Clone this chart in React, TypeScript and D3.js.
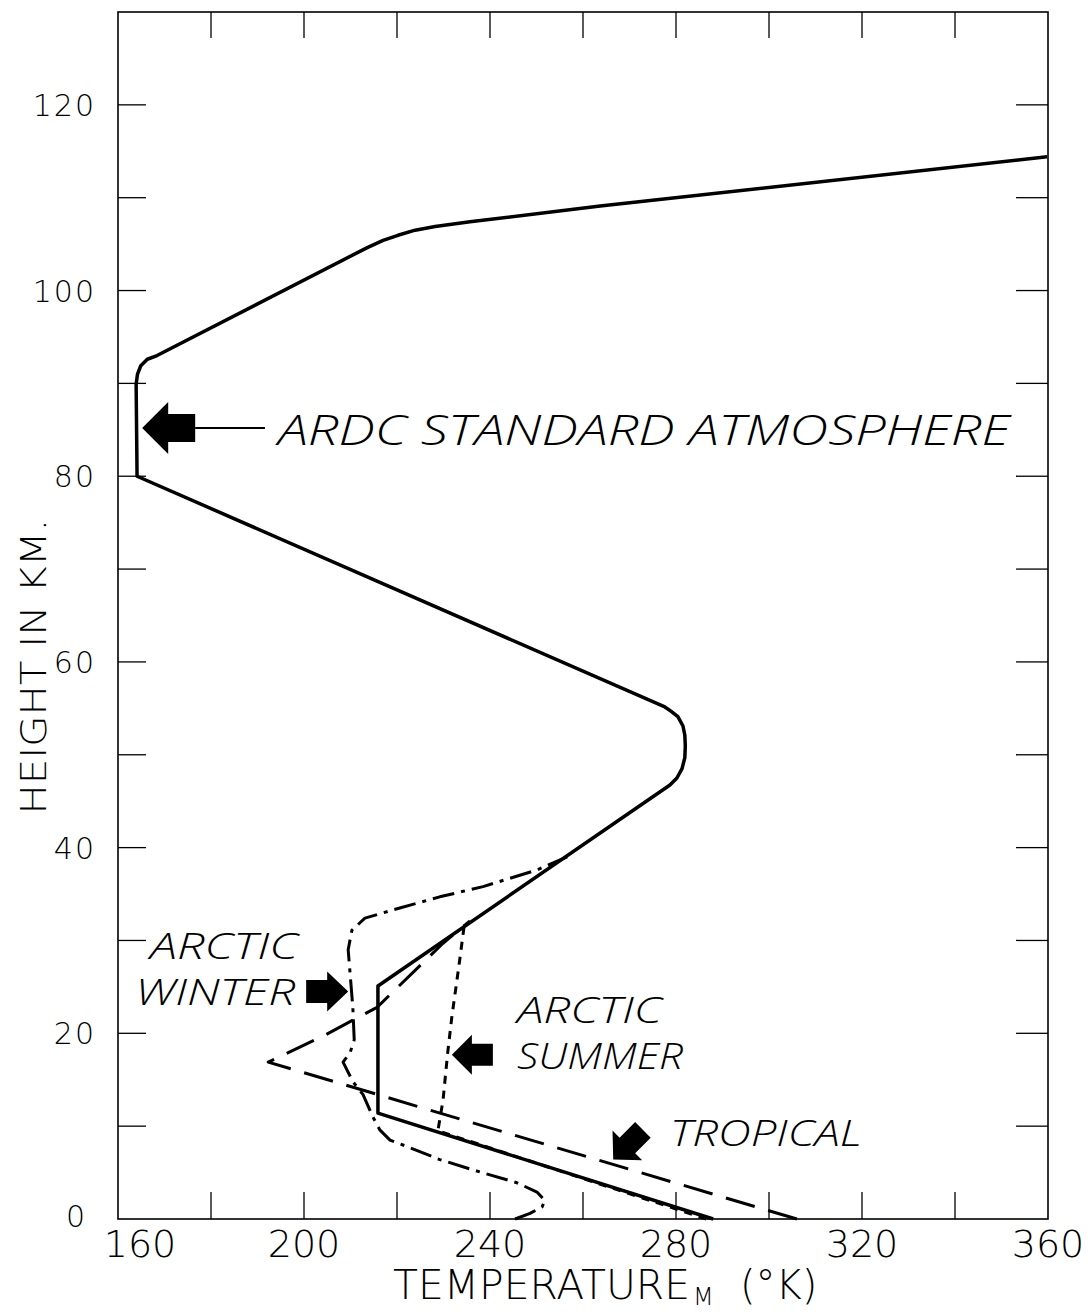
import { useEffect, useRef } from "react";
import * as d3 from "d3";

// temperature (°K) and height (km)
const ardcTemp = [288, 215.9, 215.9, 278.7, 280.2, 281.3, 281.9, 282.0, 281.9, 281.5, 280.4, 278.9, 277.6, 164.1, 163.9, 164.2, 164.9, 166.3, 168.4, 213.5, 217.0, 220.2, 223.9, 228.2, 235.7, 263.7, 359.8];
const ardcHeight = [0, 11.4, 25.1, 46.75, 47.5, 48.5, 49.7, 50.95, 52.1, 53.1, 54.1, 54.7, 55.15, 80.0, 89.9, 91.0, 91.9, 92.6, 93.0, 104.6, 105.4, 105.95, 106.5, 106.9, 107.4, 109.1, 114.4];

const winterTemp = [245.4, 248.6, 251.2, 251.8, 250.1, 245.8, 236.3, 229.2, 222.2, 218.5, 216.3, 214.8, 212.7, 210.5, 208.4, 209.9, 210.8, 210.5, 209.5, 210.3, 213.1, 220.6, 229.2, 238.5, 250.1, 256.6];
const winterHeight = [0, 0.6, 1.3, 2.0, 2.9, 3.9, 5.3, 6.4, 7.8, 8.5, 9.6, 11.0, 13.4, 14.8, 16.9, 17.9, 19.3, 22.8, 29.0, 31.1, 32.4, 33.5, 34.7, 35.8, 37.6, 39.0];

const summerTemp = [286.5, 228.8, 229.9, 230.9, 231.8, 233.3, 234.4];
const summerHeight = [0, 9.5, 12.8, 17.9, 21.8, 27.2, 31.4];

const tropicalTemp = [306.0, 192.3, 204.1, 215.7, 229.9, 235.7];
const tropicalHeight = [0, 16.9, 19.7, 22.8, 29.7, 32.1];

const xTicks = [180, 200, 220, 240, 260, 280, 300, 320, 340];
const xLabels = [160, 200, 240, 280, 320, 360];
const yTicks = [10, 20, 30, 40, 50, 60, 70, 80, 90, 100, 110, 120];
const yLabels = [20, 40, 60, 80, 100, 120];

const series = [
  { t: ardcTemp, h: ardcHeight, dash: null, width: 3.5 },
  { t: winterTemp, h: winterHeight, dash: "22,7,4,7", width: 3 },
  { t: summerTemp, h: summerHeight, dash: "8,7", width: 3 },
  { t: tropicalTemp, h: tropicalHeight, dash: "30,14", width: 3 },
];

// arrow: tip in data units, direction in degrees (svg), sizes in px
const arrows = [
  { t: 165.2, h: 85.2, dir: 180, hl: 26, hw: 52, bl: 27, bw: 28 },
  { t: 209.5, h: 24.5, dir: 0, hl: 21, hw: 40, bl: 21, bw: 23 },
  { t: 231.8, h: 17.7, dir: 180, hl: 20, hw: 40, bl: 21, bw: 22 },
  { t: 266.5, h: 6.4, dir: 135, hl: 20, hw: 42, bl: 22, bw: 22 },
];

const notes = [
  { text: "ARDC STANDARD ATMOSPHERE", t: 194.4, h: 83.4, len: 732, size: 42 },
  { text: "ARCTIC", t: 166.9, h: 28.0, len: 148, size: 37 },
  { text: "WINTER", t: 163.7, h: 23.05, len: 160, size: 37 },
  { text: "ARCTIC", t: 245.8, h: 21.1, len: 145, size: 36 },
  { text: "SUMMER", t: 245.8, h: 16.2, len: 166, size: 36 },
  { text: "TROPICAL", t: 278.7, h: 7.9, len: 192, size: 37 },
];

const App = () => {
  const ref = useRef<SVGSVGElement>(null);

  useEffect(() => {
    const width = 1091;
    const height = 1313;
    const left = 118, right = 1048, top = 12, bottom = 1219;

    const x = d3.scaleLinear().domain([160, 360]).range([left, right]);
    const y = d3.scaleLinear().domain([0, 130]).range([bottom, top]);

    const svg = d3.select(ref.current);
    svg.selectAll("*").remove();
    svg.attr("width", width).attr("height", height).attr("viewBox", [0, 0, width, height]);

    svg.append("rect").attr("width", width).attr("height", height).attr("fill", "white");

    // frame
    svg.append("rect")
      .attr("x", left).attr("y", top)
      .attr("width", right - left).attr("height", bottom - top)
      .attr("fill", "none").attr("stroke", "black").attr("stroke-width", 1.6);

    // ticks on all four sides, pointing inward
    const g = svg.append("g").attr("stroke", "black").attr("stroke-width", 1.3);
    g.selectAll(".tb").data(xTicks).join("line")
      .attr("x1", (d) => x(d)).attr("x2", (d) => x(d))
      .attr("y1", bottom).attr("y2", bottom - 27);
    g.selectAll(".tt").data(xTicks).join("line")
      .attr("x1", (d) => x(d)).attr("x2", (d) => x(d))
      .attr("y1", top).attr("y2", top + 26);
    g.selectAll(".tl").data(yTicks).join("line")
      .attr("x1", left).attr("x2", left + 28)
      .attr("y1", (d) => y(d)).attr("y2", (d) => y(d));
    g.selectAll(".tr").data(yTicks).join("line")
      .attr("x1", right).attr("x2", right - 32)
      .attr("y1", (d) => y(d)).attr("y2", (d) => y(d));

    // tick labels
    const tickFont = "'DejaVu Sans', sans-serif";
    svg.append("g").selectAll("text").data(yLabels).join("text")
      .attr("x", 96).attr("y", (d) => y(d) + 11)
      .attr("text-anchor", "end")
      .attr("font-family", tickFont).attr("font-size", 30).attr("font-weight", 300)
      .attr("letter-spacing", 2)
      .text((d) => d);
    svg.append("text")
      .attr("x", 66).attr("y", 1227)
      .attr("font-family", tickFont).attr("font-size", 30).attr("font-weight", 300)
      .text("0");

    svg.append("g").selectAll("text").data(xLabels).join("text")
      .attr("x", (d, i) => (i === 0 ? x(d) + 22 : x(d)))
      .attr("y", 1257)
      .attr("text-anchor", "middle")
      .attr("font-family", tickFont).attr("font-size", 38).attr("font-weight", 300)
      .attr("font-stretch", "condensed")
      .text((d) => d);

    // axis titles
    svg.append("text")
      .attr("transform", `translate(46, ${y(59.5)}) rotate(-90)`)
      .attr("text-anchor", "middle")
      .attr("font-family", tickFont).attr("font-size", 36).attr("font-weight", 300)
      .attr("font-stretch", "condensed")
      .attr("textLength", 296).attr("lengthAdjust", "spacingAndGlyphs")
      .text("HEIGHT IN KM.");

    const xt = svg.append("text")
      .attr("x", 393).attr("y", 1299)
      .attr("font-family", tickFont).attr("font-size", 40).attr("font-weight", 300)
      .attr("font-stretch", "condensed");
    xt.append("tspan").attr("textLength", 297).attr("lengthAdjust", "spacingAndGlyphs").text("TEMPERATURE");
    xt.append("tspan").attr("x", 693).attr("y", 1305).attr("font-size", 24).text("M");
    xt.append("tspan").attr("x", 740).attr("y", 1299).text("(°K)");

    // curves
    series.forEach((s) => {
      const pts: [number, number][] = s.t.map((t, i) => [x(t), y(s.h[i])]);
      svg.append("path")
        .attr("d", d3.line()(pts))
        .attr("fill", "none")
        .attr("stroke", "black")
        .attr("stroke-width", s.width)
        .attr("stroke-linejoin", "round")
        .attr("stroke-dasharray", s.dash);
    });

    // arrows
    arrows.forEach((a) => {
      const { hl, hw, bl, bw } = a;
      const poly = [
        [0, 0], [-hl, -hw / 2], [-hl, -bw / 2], [-hl - bl, -bw / 2],
        [-hl - bl, bw / 2], [-hl, bw / 2], [-hl, hw / 2],
      ];
      svg.append("polygon")
        .attr("points", poly.map((p) => p.join(",")).join(" "))
        .attr("transform", `translate(${x(a.t)},${y(a.h)}) rotate(${a.dir})`)
        .attr("fill", "black");
    });
    // leader line of the ARDC arrow
    svg.append("line")
      .attr("x1", x(165.2) + 53).attr("x2", x(191.6))
      .attr("y1", y(85.2)).attr("y2", y(85.2))
      .attr("stroke", "black").attr("stroke-width", 2);

    // curve labels
    svg.append("g").selectAll("text").data(notes).join("text")
      .attr("x", (d) => x(d.t)).attr("y", (d) => y(d.h))
      .attr("font-family", "'Open Sans', 'DejaVu Sans', sans-serif")
      .attr("font-style", "italic").attr("font-weight", 300)
      .attr("font-size", (d) => d.size)
      .attr("textLength", (d) => d.len).attr("lengthAdjust", "spacingAndGlyphs")
      .text((d) => d.text);
  }, []);

  return <svg ref={ref} style={{ position: "absolute", left: 0, top: 0 }} />;
};

export default App;
